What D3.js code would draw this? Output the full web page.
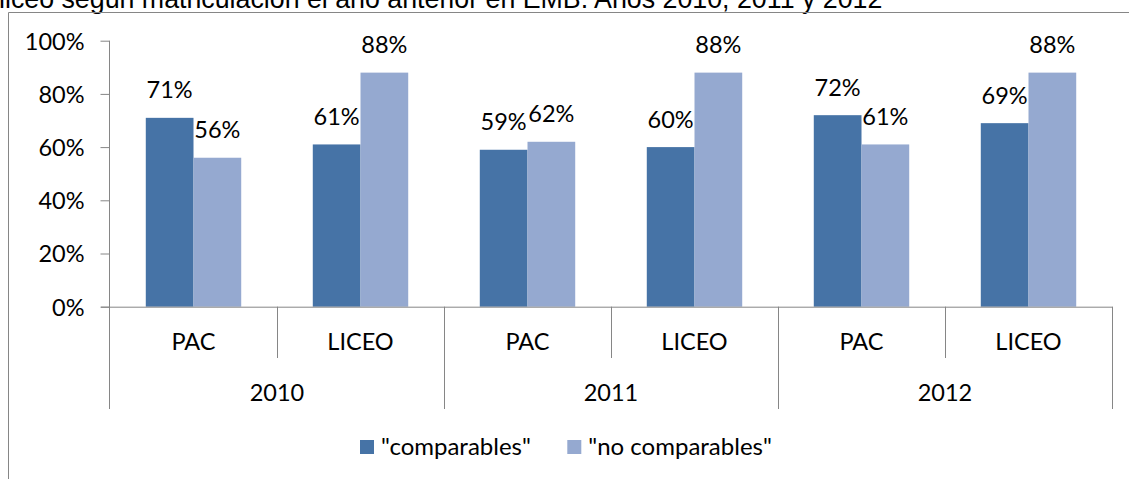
<!DOCTYPE html>
<html>
<head>
<meta charset="utf-8">
<script src="https://cdn.jsdelivr.net/npm/d3@7"></script>
<style>
  html, body { margin: 0; padding: 0; background: #fff; overflow: hidden; }
  svg { display: block; }
</style>
</head>
<body>
<svg id="chart" width="1129" height="479"></svg>
<script>
// Data
const years = ["2010", "2011", "2012"];
const types = ["PAC", "LICEO"];
const seriesNames = ["\"comparables\"", "\"no comparables\""];
const comparables   = [71, 61, 59, 60, 72, 69];   // PAC, LICEO per year
const noComparables = [56, 88, 62, 88, 61, 88];
const yTicks = [0, 20, 40, 60, 80, 100];
const titleText = "liceo según matriculación el año anterior en EMB. Años 2010, 2011 y 2012";

const colors = ["#4673A6", "#95A9D0"];
const axisColor = "#868686";
const labelFont = "Lato, 'Liberation Sans', sans-serif";
const labelSize = "23.5px";

const svg = d3.select("#chart");

// Rows: one per year/type pair
const rows = [];
years.forEach((yr, i) => types.forEach((t, j) => {
  const k = i * types.length + j;
  rows.push({ year: yr, type: t, key: yr + "|" + t, values: [comparables[k], noComparables[k]] });
}));

const plotLeft = 110, plotRight = 1112;
const y = d3.scaleLinear().domain([0, 100]).range([306.7, 40.7]);
const xCat = d3.scaleBand().domain(rows.map(r => r.key)).range([plotLeft, plotRight]);
const xYear = d3.scaleBand().domain(years).range([plotLeft, plotRight]);
const xSeries = d3.scaleBand().domain(d3.range(seriesNames.length))
  .range([0, xCat.bandwidth()]).paddingInner(0).paddingOuter(0.75);

// Title (runs off the top of the page)
const title = svg.append("text")
  .attr("x", -1).attr("y", 7.5)
  .style("font-family", "'Liberation Sans', Arial, sans-serif")
  .style("font-size", "24px")
  .attr("fill", "#000")
  .text(titleText);
const tw = title.node().getComputedTextLength();
title.style("font-size", (24 * 884 / tw) + "px");

// Chart frame (top and left edges visible)
svg.append("line").attr("x1", 8.5).attr("x2", 1129).attr("y1", 12.5).attr("y2", 12.5)
  .attr("stroke", axisColor).attr("stroke-width", 1);
svg.append("line").attr("x1", 8.5).attr("x2", 8.5).attr("y1", 12.5).attr("y2", 479)
  .attr("stroke", axisColor).attr("stroke-width", 1);

// Y axis
const yAxis = d3.axisLeft(y).tickValues(yTicks).tickFormat(d => d + "%")
  .tickSize(9).tickPadding(16);
const gy = svg.append("g").attr("transform", `translate(${plotLeft - 0.5},0)`).call(yAxis);
gy.select(".domain").remove();
gy.selectAll(".tick line").attr("stroke", axisColor);
gy.selectAll(".tick text")
  .style("font-family", labelFont).style("font-size", labelSize)
  .attr("fill", "#000").attr("dy", "0.36em");
svg.append("line").attr("x1", plotLeft - 0.5).attr("x2", plotLeft - 0.5)
  .attr("y1", y(100)).attr("y2", 409).attr("stroke", axisColor);

// Bars
const groups = svg.append("g").selectAll("g").data(rows).join("g")
  .attr("transform", d => `translate(${xCat(d.key)},0)`);
groups.selectAll("rect").data(d => d.values.map((v, s) => ({ v, s }))).join("rect")
  .attr("x", d => xSeries(d.s))
  .attr("width", xSeries.bandwidth())
  .attr("y", d => y(d.v))
  .attr("height", d => y(0) - y(d.v))
  .attr("fill", d => colors[d.s]);

// Value labels
groups.selectAll("text").data(d => d.values.map((v, s) => ({ v, s }))).join("text")
  .attr("x", d => xSeries(d.s) + xSeries.bandwidth() / 2)
  .attr("y", d => y(d.v) - 19.5)
  .attr("text-anchor", "middle")
  .style("font-family", labelFont).style("font-size", labelSize)
  .attr("fill", "#000")
  .text(d => d.v + "%");

// Category axis: baseline
svg.append("line").attr("x1", plotLeft - 9).attr("x2", plotRight + 0.5)
  .attr("y1", y(0) + 0.5).attr("y2", y(0) + 0.5).attr("stroke", axisColor);

// Inner separators between types, and year separators
rows.forEach((r, i) => {
  if (i === 0) return;
  const xx = Math.round(xCat(r.key)) + 0.5;
  const isYear = r.type === types[0];
  svg.append("line").attr("x1", xx).attr("x2", xx)
    .attr("y1", y(0)).attr("y2", isYear ? 409 : 358).attr("stroke", axisColor);
});
svg.append("line").attr("x1", plotRight + 0.5).attr("x2", plotRight + 0.5)
  .attr("y1", y(0)).attr("y2", 409).attr("stroke", axisColor);

// Type labels
svg.append("g").selectAll("text").data(rows).join("text")
  .attr("x", d => xCat(d.key) + xCat.bandwidth() / 2)
  .attr("y", 350)
  .attr("text-anchor", "middle")
  .style("font-family", labelFont).style("font-size", labelSize)
  .attr("fill", "#000")
  .text(d => d.type);

// Year labels
svg.append("g").selectAll("text").data(years).join("text")
  .attr("x", d => xYear(d) + xYear.bandwidth() / 2)
  .attr("y", 400.7)
  .attr("text-anchor", "middle")
  .style("font-family", labelFont).style("font-size", labelSize)
  .attr("fill", "#000")
  .text(d => d);

// Legend
const legendX = [360, 567.3];
const lg = svg.append("g").selectAll("g").data(seriesNames).join("g")
  .attr("transform", (d, i) => `translate(${legendX[i]},440)`);
lg.append("rect").attr("width", 14).attr("height", 14).attr("fill", (d, i) => colors[i]);
lg.append("text").attr("x", 21).attr("y", 15)
  .style("font-family", labelFont).style("font-size", "24px")
  .attr("fill", "#000")
  .text(d => d);
</script>
</body>
</html>
